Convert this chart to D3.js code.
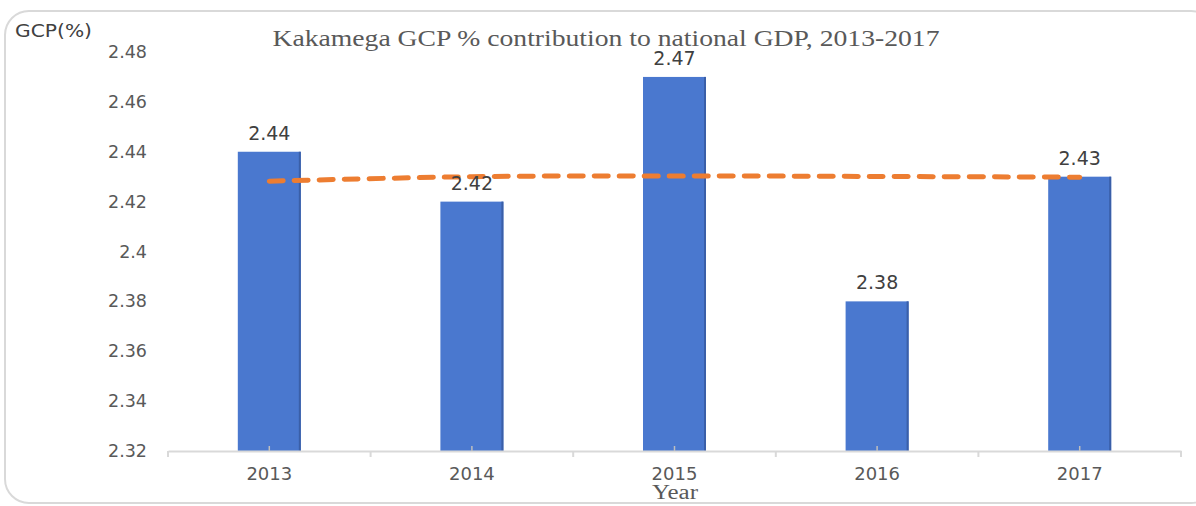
<!DOCTYPE html>
<html>
<head>
<meta charset="utf-8">
<script src="https://cdn.jsdelivr.net/npm/d3@7"></script>
<style>
  body { margin: 0; background: #fff; }
</style>
</head>
<body>
<div id="chart"></div>
<script>
var years = ["2013", "2014", "2015", "2016", "2017"];
var gcp = [2.44, 2.42, 2.47, 2.38, 2.43];
var trend = [2.4282, 2.4300, 2.4303, 2.4301, 2.4298]; // trendline
var yTicks = [2.32, 2.34, 2.36, 2.38, 2.4, 2.42, 2.44, 2.46, 2.48];

var width = 1196, height = 506;
var svg = d3.select("#chart").append("svg")
            .attr("width", width)
            .attr("height", height);

// rounded frame
svg.append("rect")
   .attr("x", 5).attr("y", 11)
   .attr("width", 1210).attr("height", 492)
   .attr("rx", 24)
   .attr("fill", "none")
   .attr("stroke", "#d9d9d9")
   .attr("stroke-width", 2);

var x = d3.scaleBand().domain(years).range([168, 1181]);
var y = d3.scaleLinear().domain([2.32, 2.48]).range([451, 52]);

// y tick labels (no axis line, no gridlines)
svg.selectAll(".ytick")
   .data(yTicks)
   .enter()
   .append("text")
   .attr("x", 147)
   .attr("y", d => y(d) + 6)
   .attr("text-anchor", "end")
   .attr("font-family", "DejaVu Sans, sans-serif")
   .attr("font-size", "17.5px")
   .attr("fill", "#595959")
   .text(d => d3.format("")(+d.toFixed(2)));

var barW = 63;
svg.selectAll(".bar")
   .data(years)
   .enter()
   .append("rect")
   .attr("x", d => x(d) + x.bandwidth() / 2 - barW / 2)
   .attr("y", (d, i) => y(gcp[i]))
   .attr("width", barW)
   .attr("height", (d, i) => y(2.32) - y(gcp[i]))
   .attr("fill", "#4a78cf");

// darker right edge of bars
svg.selectAll(".edge")
   .data(years)
   .enter()
   .append("rect")
   .attr("x", d => x(d) + x.bandwidth() / 2 + barW / 2 - 2)
   .attr("y", (d, i) => y(gcp[i]))
   .attr("width", 2)
   .attr("height", (d, i) => y(2.32) - y(gcp[i]))
   .attr("fill", "#3a5fa8");

// x axis
var xAxis = d3.axisBottom(x).tickSize(0).tickFormat("");
var gx = svg.append("g").attr("transform", "translate(0," + y(2.32) + ")").call(xAxis);
gx.select(".domain").attr("stroke", "#d9d9d9").attr("stroke-width", 2);
var bounds = years.map(d => x(d)).concat([x.range()[1]]);
gx.selectAll(".bound")
  .data(bounds)
  .enter()
  .append("line")
  .attr("x1", d => d).attr("x2", d => d)
  .attr("y1", 0).attr("y2", 6)
  .attr("stroke", "#d9d9d9").attr("stroke-width", 2);
gx.selectAll(".mid")
  .data(years)
  .enter()
  .append("line")
  .attr("x1", d => x(d) + x.bandwidth() / 2).attr("x2", d => x(d) + x.bandwidth() / 2)
  .attr("y1", -5).attr("y2", 0)
  .attr("stroke", "#bfbfbf").attr("stroke-width", 1.5);

svg.selectAll(".xlab")
   .data(years)
   .enter()
   .append("text")
   .attr("x", d => x(d) + x.bandwidth() / 2)
   .attr("y", 480)
   .attr("text-anchor", "middle")
   .attr("font-family", "DejaVu Sans, sans-serif")
   .attr("font-size", "18px")
   .attr("fill", "#595959")
   .text(d => d);

// trendline
var line = d3.line()
             .x((d, i) => x(years[i]) + x.bandwidth() / 2)
             .y(d => y(d))
             .curve(d3.curveCatmullRom);
svg.append("path")
   .datum(trend)
   .attr("d", line)
   .attr("fill", "none")
   .attr("stroke", "#ed7d31")
   .attr("stroke-width", 5)
   .attr("stroke-linecap", "round")
   .attr("stroke-dasharray", "14 11");

// data labels
svg.selectAll(".vlab")
   .data(years)
   .enter()
   .append("text")
   .attr("x", d => x(d) + x.bandwidth() / 2)
   .attr("y", (d, i) => y(gcp[i]) - 12)
   .attr("text-anchor", "middle")
   .attr("font-family", "DejaVu Sans, sans-serif")
   .attr("font-size", "19px")
   .attr("fill", "#404040")
   .text((d, i) => gcp[i].toFixed(2));

// titles
svg.append("text")
   .attr("x", 606).attr("y", 46)
   .attr("text-anchor", "middle")
   .attr("font-family", "Liberation Serif, serif")
   .attr("font-size", "23px")
   .attr("textLength", 667)
   .attr("lengthAdjust", "spacingAndGlyphs")
   .attr("fill", "#595959")
   .text("Kakamega GCP % contribution to national GDP, 2013-2017");

svg.append("text")
   .attr("x", 675).attr("y", 499)
   .attr("text-anchor", "middle")
   .attr("font-family", "Liberation Serif, serif")
   .attr("font-size", "20px")
   .attr("textLength", 46)
   .attr("lengthAdjust", "spacingAndGlyphs")
   .attr("fill", "#595959")
   .text("Year");

svg.append("text")
   .attr("x", 15).attr("y", 37)
   .attr("font-family", "DejaVu Sans, sans-serif")
   .attr("font-size", "18px")
   .attr("textLength", 77)
   .attr("lengthAdjust", "spacingAndGlyphs")
   .attr("fill", "#404040")
   .text("GCP(%)");
</script>
</body>
</html>
